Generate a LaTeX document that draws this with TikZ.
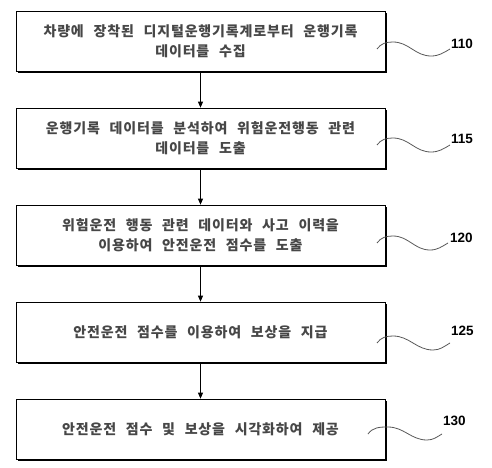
\documentclass[tikz,border=0pt]{standalone}
\usepackage{fontspec}
\setmainfont{Noto Sans CJK KR}[LetterSpace=6,WordSpace=2.4]
\newfontfamily\numfont{Liberation Sans}
\usetikzlibrary{arrows.meta,positioning,shadows}

\tikzset{
  stepbox/.style={draw, line width=0.7pt, fill=white, minimum width=369pt,
    minimum height=60pt, align=center, text=black!72,
    font=\fontsize{14}{20}\selectfont\bfseries,
    drop shadow={shadow xshift=1.6pt, shadow yshift=-1.6pt, fill=black, opacity=1}},
  flow/.style={-{Triangle[length=6pt,width=5pt]}, line width=0.7pt},
  lead/.style={draw=black!65, line width=0.8pt},
  num/.style={font=\numfont\bfseries\fontsize{13.5}{14}\selectfont, inner sep=0pt}
}

\begin{document}
\begin{tikzpicture}[x=1pt,y=1pt]
\useasboundingbox (0,0) rectangle (492,467);

% steps
\node[stepbox] (s110) at (200.5,426) {차량에 장착된 디지털운행기록계로부터 운행기록\\데이터를 수집};
\node[stepbox] (s115) at (200.5,329) {운행기록 데이터를 분석하여 위험운전행동 관련\\데이터를 도출};
\node[stepbox] (s120) at (200.5,232) {위험운전 행동 관련 데이터와 사고 이력을\\이용하여 안전운전 점수를 도출};
\node[stepbox] (s125) at (200.5,135) {안전운전 점수를 이용하여 보상을 지급};
\node[stepbox] (s130) at (200.5,38) {안전운전 점수 및 보상을 시각화하여 제공};

\draw[flow] (s110) -- (s115);
\draw[flow] (s115) -- (s120);
\draw[flow] (s120) -- (s125);
\draw[flow] (s125) -- (s130);

% reference numerals
\coordinate (w110) at (377,418);
\coordinate (e110) at (450,418);
\node[num, above right=0pt and 1pt of e110] (n110) {110};
\coordinate (w115) at (377,322);
\coordinate (e115) at (450,322);
\node[num, above right=1pt and 1pt of e115] (n115) {115};
\coordinate (w120) at (377,224);
\coordinate (e120) at (448,224);
\node[num, above right=0pt and 2pt of e120] (n120) {120};
\coordinate (w125) at (377,124);
\coordinate (e125) at (450,124);
\node[num, above right=7pt and 1pt of e125] (n125) {125};
\coordinate (w130) at (368,33);
\coordinate (e130) at (442,33);
\node[num, above right=8pt and 1pt of e130] (n130) {130};

\draw[lead] (w110) to[out=55,in=180] ++(16,7) to[out=0,in=180] ++(38,-14) to[out=0,in=210] (e110);
\draw[lead] (w115) to[out=55,in=180] ++(16,7) to[out=0,in=180] ++(38,-14) to[out=0,in=210] (e115);
\draw[lead] (w120) to[out=55,in=180] ++(16,7) to[out=0,in=180] ++(37,-14) to[out=0,in=210] (e120);
\draw[lead] (w125) to[out=55,in=180] ++(16,7) to[out=0,in=180] ++(40,-14) to[out=0,in=210] (e125);
\draw[lead] (w130) to[out=55,in=180] ++(20,7) to[out=0,in=180] ++(39,-13) to[out=0,in=210] (e130);
\end{tikzpicture}
\end{document}
